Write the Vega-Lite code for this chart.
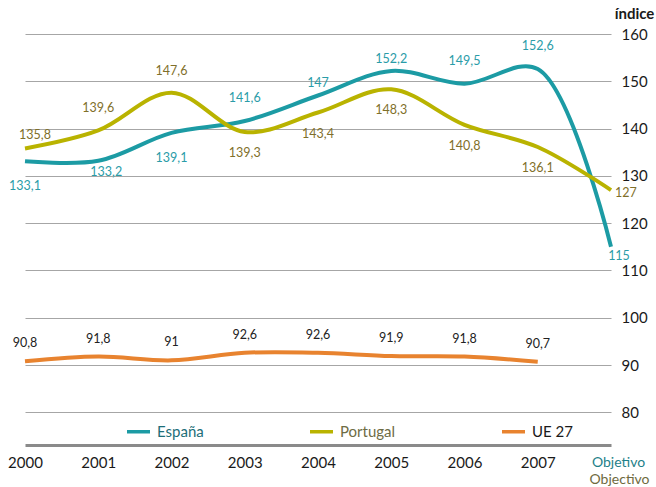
{
  "$schema": "https://vega.github.io/schema/vega-lite/v6.json",
  "width": 586,
  "height": 411,
  "autosize": {"type": "none"},
  "padding": {"left": 25, "top": 34, "right": 45, "bottom": 42},
  "background": "white",
  "config": {
    "view": {"stroke": null},
    "font": "Lato",
    "locale": {"number": {"decimal": ",", "thousands": ".", "grouping": [3], "currency": ["", " €"]}}
  },
  "data": {
    "values": [
      {"series": "España", "period": "2000", "value": 133.1},
      {"series": "España", "period": "2001", "value": 133.2},
      {"series": "España", "period": "2002", "value": 139.1},
      {"series": "España", "period": "2003", "value": 141.6},
      {"series": "España", "period": "2004", "value": 147},
      {"series": "España", "period": "2005", "value": 152.2},
      {"series": "España", "period": "2006", "value": 149.5},
      {"series": "España", "period": "2007", "value": 152.6},
      {"series": "España", "period": "Objetivo", "value": 115},
      {"series": "Portugal", "period": "2000", "value": 135.8},
      {"series": "Portugal", "period": "2001", "value": 139.6},
      {"series": "Portugal", "period": "2002", "value": 147.6},
      {"series": "Portugal", "period": "2003", "value": 139.3},
      {"series": "Portugal", "period": "2004", "value": 143.4},
      {"series": "Portugal", "period": "2005", "value": 148.3},
      {"series": "Portugal", "period": "2006", "value": 140.8},
      {"series": "Portugal", "period": "2007", "value": 136.1},
      {"series": "Portugal", "period": "Objetivo", "value": 127},
      {"series": "UE 27", "period": "2000", "value": 90.8},
      {"series": "UE 27", "period": "2001", "value": 91.8},
      {"series": "UE 27", "period": "2002", "value": 91},
      {"series": "UE 27", "period": "2003", "value": 92.6},
      {"series": "UE 27", "period": "2004", "value": 92.6},
      {"series": "UE 27", "period": "2005", "value": 91.9},
      {"series": "UE 27", "period": "2006", "value": 91.8},
      {"series": "UE 27", "period": "2007", "value": 90.7}
    ]
  },
  "encoding": {
    "x": {
      "field": "period",
      "type": "ordinal",
      "sort": ["2000", "2001", "2002", "2003", "2004", "2005", "2006", "2007", "Objetivo"],
      "scale": {"type": "point", "padding": 0},
      "axis": {
        "title": "Objectivo",
        "titleColor": "#6e6a3e",
        "titleFont": "Lato",
        "titleFontSize": 14,
        "titleFontWeight": "normal",
        "titleX": 594,
        "titleY": 34,
        "titleAlign": "center",
        "titleBaseline": "middle",
        "labelAngle": 0,
        "labelFont": "Lato",
        "labelFontSize": {"condition": {"test": "datum.value === 'Objetivo'", "value": 14}, "value": 15},
        "labelOffset": {"condition": {"test": "datum.value === 'Objetivo'", "value": 7}, "value": 0},
        "labelPadding": 10,
        "labelColor": {"condition": {"test": "datum.value === 'Objetivo'", "value": "#1e7f89"}, "value": "#1a1a1a"},
        "ticks": false,
        "grid": false,
        "domain": true,
        "domainColor": "#8a8a8a",
        "domainWidth": 3,
        "encode": {"domain": {"update": {"x": {"value": -18}, "x2": {"signal": "width + 41"}}}}
      }
    },
    "y": {
      "field": "value",
      "type": "quantitative",
      "scale": {"domain": [73.1, 160], "nice": false, "zero": false},
      "axis": {
        "orient": "right",
        "values": [80, 90, 100, 110, 120, 130, 140, 150, 160],
        "grid": true,
        "gridColor": "#a6a6a6",
        "gridWidth": 1.2,
        "domain": false,
        "ticks": false,
        "labelFont": "Lato",
        "labelFontSize": 15,
        "labelColor": "#1a1a1a",
        "labelPadding": 10,
        "labelAlign": "left",
        "title": "índice",
        "titleFont": "Lato",
        "titleFontSize": 15,
        "titleFontWeight": "bold",
        "titleColor": "#1a1a1a",
        "titleAngle": 0,
        "titleX": 23,
        "titleY": -21,
        "titleAlign": "center",
        "titleBaseline": "middle"
      }
    }
  },
  "layer": [
    {
      "mark": {"type": "line", "interpolate": "catmull-rom", "strokeWidth": 4, "strokeCap": "butt"},
      "encoding": {
        "color": {
          "field": "series",
          "type": "nominal",
          "scale": {"domain": ["España", "Portugal", "UE 27"], "range": ["#1c9ba4", "#b9b300", "#e8832f"]},
          "legend": {
            "orient": "none",
            "legendX": 100,
            "legendY": 384,
            "direction": "horizontal",
            "title": null,
            "padding": 0,
            "symbolType": "stroke",
            "symbolStrokeWidth": 3.5,
            "symbolSize": 530,
            "labelFont": "Lato",
            "labelFontSize": 15,
            "labelOffset": 5,
            "columnPadding": 98,
            "encode": {"labels": {"update": {"fill": [
              {"test": "datum.value === 'España'", "value": "#1d6e78"},
              {"test": "datum.value === 'Portugal'", "value": "#6e6c44"},
              {"value": "#1a1a1a"}
            ]}}}
          }
        }
      }
    },
    {
      "transform": [{"filter": "datum.series === 'España' && indexof(['2000','2002'], datum.period) >= 0"}],
      "mark": {"type": "text", "dy": 25, "fontSize": 12.5, "color": "#2a9ca8", "font": "Lato"},
      "encoding": {"text": {"field": "value", "format": "~f"}}
    },
    {
      "transform": [{"filter": "datum.series === 'España' && datum.period === '2001'"}],
      "mark": {"type": "text", "dy": 11, "dx": 8, "fontSize": 12.5, "color": "#2a9ca8", "font": "Lato"},
      "encoding": {"text": {"field": "value", "format": "~f"}}
    },
    {
      "transform": [{"filter": "datum.series === 'España' && indexof(['2003','2006','2007'], datum.period) >= 0"}],
      "mark": {"type": "text", "dy": -23, "fontSize": 12.5, "color": "#2a9ca8", "font": "Lato"},
      "encoding": {"text": {"field": "value", "format": "~f"}}
    },
    {
      "transform": [{"filter": "datum.series === 'España' && indexof(['2004','2005'], datum.period) >= 0"}],
      "mark": {"type": "text", "dy": -12, "fontSize": 12.5, "color": "#2a9ca8", "font": "Lato"},
      "encoding": {"text": {"field": "value", "format": "~f"}}
    },
    {
      "transform": [{"filter": "datum.series === 'España' && datum.period === 'Objetivo'"}],
      "mark": {"type": "text", "dy": 9, "dx": 8, "fontSize": 12.5, "color": "#2a9ca8", "font": "Lato"},
      "encoding": {"text": {"field": "value", "format": "~f"}}
    },
    {
      "transform": [{"filter": "datum.series === 'Portugal' && indexof(['2001','2002'], datum.period) >= 0"}],
      "mark": {"type": "text", "dy": -22, "fontSize": 12.5, "color": "#7f6f2a", "font": "Lato"},
      "encoding": {"text": {"field": "value", "format": "~f"}}
    },
    {
      "transform": [{"filter": "datum.series === 'Portugal' && datum.period === '2000'"}],
      "mark": {"type": "text", "dy": -13, "dx": 10, "fontSize": 12.5, "color": "#7f6f2a", "font": "Lato"},
      "encoding": {"text": {"field": "value", "format": "~f"}}
    },
    {
      "transform": [{"filter": "datum.series === 'Portugal' && indexof(['2003','2004','2005','2006','2007'], datum.period) >= 0"}],
      "mark": {"type": "text", "dy": 21, "fontSize": 12.5, "color": "#7f6f2a", "font": "Lato"},
      "encoding": {"text": {"field": "value", "format": "~f"}}
    },
    {
      "transform": [{"filter": "datum.series === 'Portugal' && datum.period === 'Objetivo'"}],
      "mark": {"type": "text", "dy": 3, "dx": 4, "align": "left", "fontSize": 12.5, "color": "#7f6f2a", "font": "Lato"},
      "encoding": {"text": {"field": "value", "format": "~f"}}
    },
    {
      "transform": [{"filter": "datum.series === 'UE 27'"}],
      "mark": {"type": "text", "dy": -18, "fontSize": 12.5, "color": "#222222", "font": "Lato"},
      "encoding": {"text": {"field": "value", "format": "~f"}}
    }
  ]
}
